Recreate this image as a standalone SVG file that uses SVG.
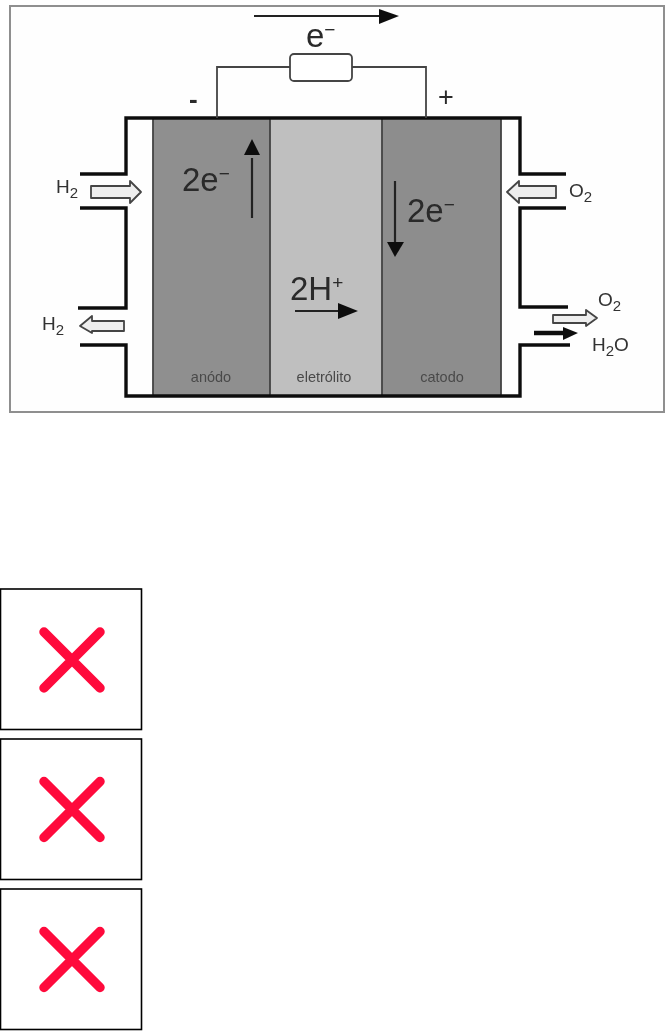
<svg xmlns="http://www.w3.org/2000/svg" width="672" height="1031" viewBox="0 0 672 1031">
<style>
text{font-family:"Liberation Sans",Arial,sans-serif;fill:#2a2a2a}
.big{font-size:33px}
.sub{font-size:15px}
.lab{font-size:19px;fill:#333}
.cell{font-size:14.5px;fill:#4a4a4a;text-anchor:middle}
.wall{fill:none;stroke:#111;stroke-width:3.4}
.thin{fill:none;stroke:#444;stroke-width:1.8}
.hollow{fill:#eee;stroke:#444;stroke-width:1.8;stroke-linejoin:round}
.ph{fill:#fff;stroke:#000;stroke-width:1.6}
.x{stroke:#ff0a3c;stroke-width:9.5;stroke-linecap:round;fill:none}
</style>
<defs>
<filter id="soft" x="-5%" y="-5%" width="110%" height="110%"><feGaussianBlur stdDeviation="0.75"/></filter>
<g id="cross"><path class="x" d="M44 632L100 688M100 632L44 688"/></g>
</defs>
<rect width="672" height="1031" fill="#fff"/>
<g id="figure" filter="url(#soft)">
<rect id="frame" x="10" y="6" width="654" height="406" fill="#fefefe" stroke="#8f8f8f" stroke-width="2"/>
<g id="anode"><rect x="153" y="118" width="117" height="278" fill="#8f8f8f"/><text class="cell" x="211" y="382">anódo</text></g>
<g id="electrolyte"><rect x="270" y="118" width="112" height="278" fill="#bfbfbf"/><text class="cell" x="324" y="382">eletrólito</text></g>
<g id="cathode"><rect x="382" y="118" width="119" height="278" fill="#8d8d8d"/><text class="cell" x="442" y="382">catodo</text></g>
<g id="connectors">
<path class="thin" d="M153 118V396M270 118V396M382 118V396M501 118V396" stroke-width="1.6"/>
<path class="wall" d="M80 174H126V118H520V174H566M80 208H126V308H78M80 345H126V396H520V345H570M566 208H520V307H568"/>
<path class="thin" d="M217 118V67H290M426 118V67H352"/>
<path d="M254 16H380" fill="none" stroke="#222" stroke-width="2.2"/><path d="M379 9L399 16L379 24Z" fill="#111"/>
<path d="M252 218V158" fill="none" stroke="#222" stroke-width="2.2"/><path d="M244 155L252 139L260 155Z" fill="#111"/>
<path d="M395 181V244" fill="none" stroke="#222" stroke-width="2.2"/><path d="M387 242H404L395 257Z" fill="#111"/>
<path d="M295 311H340" fill="none" stroke="#222" stroke-width="2.2"/><path d="M338 303L358 311L338 319Z" fill="#111"/>
<path d="M534 333H565" fill="none" stroke="#111" stroke-width="4.5"/><path d="M563 327L578 333L563 340Z" fill="#111"/>
<path class="hollow" d="M91 186H130V181L141 192L130 203V198H91Z"/>
<path class="hollow" d="M556 186H519V181L507 192L519 203V198H556Z"/>
<path class="hollow" d="M124 321H92V316L80 326L92 333V331H124Z"/>
<path class="hollow" d="M553 315H586V310L597 318L586 326V323H553Z"/>
</g>
<g id="resistor"><rect x="290" y="54" width="62" height="27" rx="4" fill="#fff" stroke="#444" stroke-width="1.8"/></g>
<g id="labels">
<text x="306" y="47" class="big">e<tspan font-size="19" dy="-11">−</tspan></text>
<text x="189" y="108" style="font-size:26px;font-weight:bold">-</text>
<text x="438" y="106" style="font-size:27px">+</text>
<text x="182" y="191" class="big">2e<tspan font-size="19" dy="-11">−</tspan></text>
<text x="407" y="222" class="big">2e<tspan font-size="19" dy="-11">−</tspan></text>
<text x="290" y="300" class="big">2H<tspan font-size="19" dy="-11">+</tspan></text>
<text x="56" y="193" class="lab">H<tspan class="sub" dy="5">2</tspan></text>
<text x="42" y="330" class="lab">H<tspan class="sub" dy="5">2</tspan></text>
<text x="569" y="197" class="lab">O<tspan class="sub" dy="5">2</tspan></text>
<text x="598" y="306" class="lab">O<tspan class="sub" dy="5">2</tspan></text>
<text x="592" y="351" class="lab">H<tspan class="sub" dy="5">2</tspan><tspan dy="-5">O</tspan></text>
</g>
</g>
<g id="placeholder-1"><rect class="ph" x="0.5" y="589" width="141" height="140.5"/><use href="#cross"/></g>
<g id="placeholder-2"><rect class="ph" x="0.5" y="739" width="141" height="140.5"/><use href="#cross" y="149.5"/></g>
<g id="placeholder-3"><rect class="ph" x="0.5" y="889" width="141" height="140.5"/><use href="#cross" y="299.5"/></g>
</svg>
